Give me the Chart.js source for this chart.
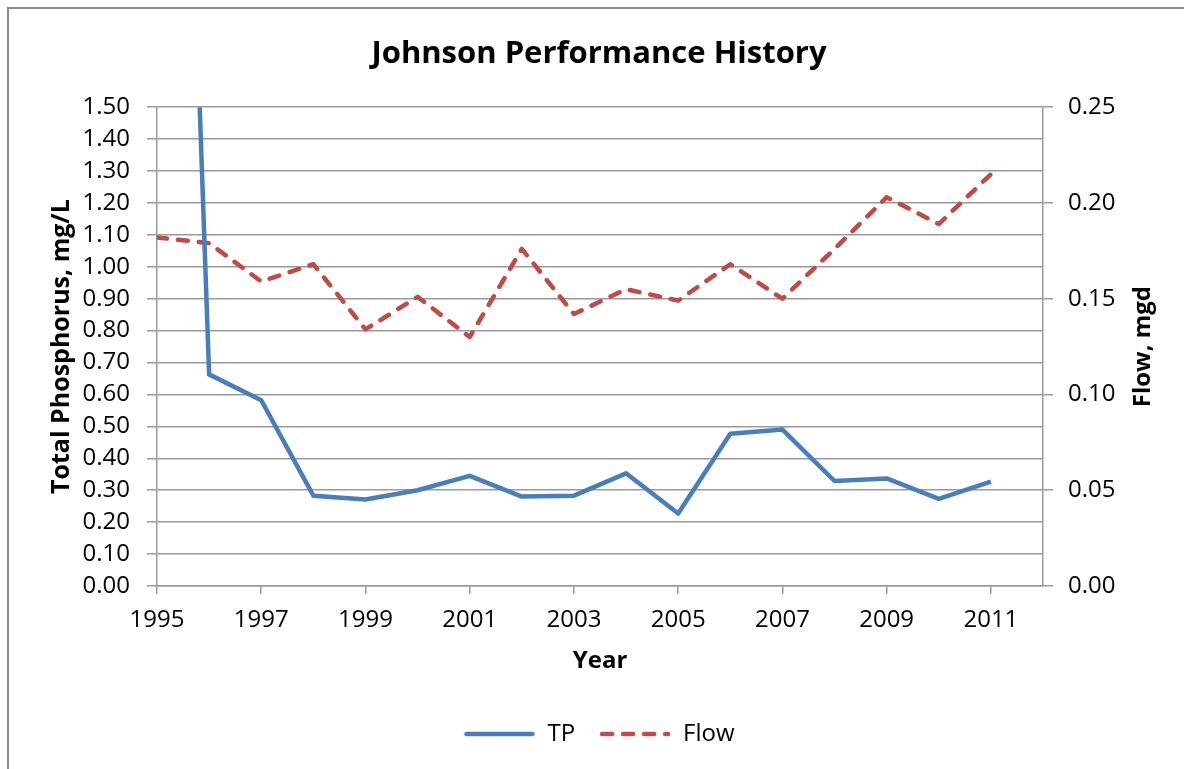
<!DOCTYPE html>
<html>
<head>
<meta charset="utf-8">
<script src="https://cdn.jsdelivr.net/npm/chart.js@4/dist/chart.umd.min.js"></script>
<style>
  body { margin: 0; background: #fff; }
  #wrap { position: relative; width: 1184px; height: 769px; }
  #frame { position: absolute; left: 7px; top: 7px; right: -10px; bottom: -10px; border-left: 2px solid #8a8a8a; border-top: 2px solid #8a8a8a; }
</style>
</head>
<body>
<div id="wrap">
  <div id="frame"></div>
  <canvas id="johnsonChart"></canvas>
</div>
<script>
// data
var years = [1995, 1996, 1997, 1998, 1999, 2000, 2001, 2002, 2003, 2004, 2005, 2006, 2007, 2008, 2009, 2010, 2011];
var tpValues = [5.3, 0.663, 0.582, 0.283, 0.271, 0.30, 0.345, 0.280, 0.283, 0.353, 0.227, 0.477, 0.490, 0.329, 0.337, 0.273, 0.327];
var flowValues = [0.182, 0.179, 0.159, 0.168, 0.134, 0.151, 0.130, 0.176, 0.142, 0.155, 0.149, 0.168, 0.150, 0.176, 0.203, 0.189, 0.215];

var yearTicks = [1995, 1997, 1999, 2001, 2003, 2005, 2007, 2009, 2011];
var tpTicks = [0, 0.1, 0.2, 0.3, 0.4, 0.5, 0.6, 0.7, 0.8, 0.9, 1.0, 1.1, 1.2, 1.3, 1.4, 1.5];
var flowTicks = [0, 0.05, 0.10, 0.15, 0.20, 0.25];

var fontFamily = "'Open Sans', sans-serif";
var gridColor = '#9a9a9a';
var tpColor = '#4a7ebb';
var flowColor = '#be4b48';

function toPoints(values) {
    return values.map(function(v, i) { return { x: years[i], y: v }; });
}

function fixTicks(list) {
    return function(scale) {
        scale.ticks = list.map(function(v) { return { value: v }; });
    };
}

// little line samples for the legend (the built-in one ignores dashes)
function legendSample(color, dash) {
    var c = document.createElement('canvas');
    c.width = 72;
    c.height = 10;
    var g = c.getContext('2d');
    g.strokeStyle = color;
    g.lineWidth = 4.5;
    g.lineCap = 'round';
    g.setLineDash(dash);
    g.beginPath();
    g.moveTo(3, 5);
    g.lineTo(69, 5);
    g.stroke();
    return c;
}

// right axis title reads bottom-to-top like the left one
var rightTitle = {
    id: 'rightTitle',
    afterDraw: function(chart) {
        var ctx = chart.ctx;
        var area = chart.chartArea;
        ctx.save();
        ctx.translate(1143, (area.top + area.bottom) / 2);
        ctx.rotate(-Math.PI / 2);
        ctx.font = "bold 24px " + fontFamily;
        ctx.fillStyle = '#000';
        ctx.textAlign = 'center';
        ctx.textBaseline = 'middle';
        ctx.fillText('Flow, mgd', 0, 0);
        ctx.restore();
    }
};

Chart.defaults.font.family = fontFamily;
Chart.defaults.font.size = 24;
Chart.defaults.color = '#000';

var ctx = document.getElementById('johnsonChart');
var chart = new Chart(ctx, {
    type: 'line',
    data: {
        datasets: [{
            label: 'TP',
            data: toPoints(tpValues),
            yAxisID: 'y',
            borderColor: tpColor,
            backgroundColor: tpColor,
            borderWidth: 4.5,
            borderJoinStyle: 'round',
            pointRadius: 0,
            pointStyle: legendSample(tpColor, []),
            tension: 0
        }, {
            label: 'Flow',
            data: toPoints(flowValues),
            yAxisID: 'y1',
            borderColor: flowColor,
            backgroundColor: flowColor,
            borderWidth: 4.5,
            borderDash: [10, 11],
            borderCapStyle: 'round',
            borderJoinStyle: 'round',
            pointRadius: 0,
            pointStyle: legendSample(flowColor, [10, 11]),
            tension: 0
        }]
    },
    options: {
        responsive: true,
        maintainAspectRatio: false,
        animation: false,
        layout: {
            padding: { left: 14, right: 0, top: 8, bottom: 13 }
        },
        plugins: {
            title: {
                display: true,
                text: 'Johnson Performance History',
                font: { size: 31, weight: 'bold' },
                padding: { top: 28, bottom: 34 }
            },
            legend: {
                position: 'bottom',
                labels: {
                    usePointStyle: true,
                    pointStyleWidth: 72,
                    padding: 24,
                    font: { size: 24 }
                }
            },
            tooltip: { enabled: false }
        },
        scales: {
            x: {
                type: 'linear',
                min: 1995,
                max: 2012,
                afterBuildTicks: fixTicks(yearTicks),
                afterFit: function(scale) { scale.height = 112; },
                grid: { drawOnChartArea: false, tickLength: 8, color: gridColor, lineWidth: 1.5 },
                border: { color: gridColor, width: 1.5 },
                ticks: {
                    autoSkip: false,
                    maxRotation: 0,
                    padding: 12,
                    callback: function(v) { return String(v); }
                },
                title: {
                    display: true,
                    text: 'Year',
                    font: { size: 24, weight: 'bold' },
                    padding: { top: 0, bottom: 22 }
                }
            },
            y: {
                position: 'left',
                min: 0,
                max: 1.5,
                afterBuildTicks: fixTicks(tpTicks),
                afterFit: function(scale) { scale.width = 143; },
                grid: { color: gridColor, lineWidth: 1.5, tickLength: 10 },
                border: { color: gridColor, width: 1.5 },
                ticks: {
                    padding: 17,
                    callback: function(v) { return v.toFixed(2); }
                },
                title: {
                    display: true,
                    text: 'Total Phosphorus, mg/L',
                    font: { size: 25, weight: 'bold' },
                    padding: { top: 33, bottom: 0 }
                }
            },
            y1: {
                position: 'right',
                min: 0,
                max: 0.25,
                afterBuildTicks: fixTicks(flowTicks),
                afterFit: function(scale) { scale.width = 141; },
                grid: { drawOnChartArea: false, color: gridColor, lineWidth: 1.5, tickLength: 10 },
                border: { color: gridColor, width: 1.5 },
                ticks: {
                    padding: 15,
                    callback: function(v) { return v.toFixed(2); }
                }
            }
        }
    },
    plugins: [rightTitle]
});
</script>
</body>
</html>
